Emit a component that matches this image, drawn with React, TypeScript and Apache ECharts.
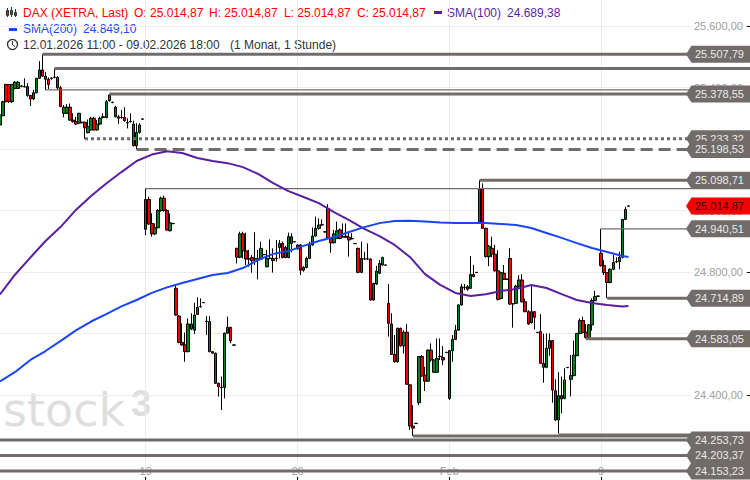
import React, { useEffect, useRef } from "react";
import * as echarts from "echarts";

const candles: number[][] = [
[25278,25311,25275,25311],[25308,25354,25308,25357],[25410,25354,25352,25412],[25410,25354,25350,25410],[25354,25410,25350,25410],
[25397,25417,25394,25421],[25397,25417,25397,25421],[25405,25404,25401,25408],[25403,25402,25400,25430],[25403,25374,25370,25414],
[25374,25363,25340,25376],[25363,25383,25359,25392],[25383,25430,25381,25431],[25430,25457,25428,25486],[25457,25437,25435,25507.79],
[25437,25427,25392,25451],[25427,25410,25395,25433],[25431,25430,25425,25432],[25434,25433,25430,25462],[25433,25399,25392,25437],
[25399,25338,25336,25405],[25316,25336,25303,25343],[25316,25336,25314,25346],[25336,25294,25292,25348],[25294,25289,25286,25316],
[25289,25281,25278,25305],[25284,25316,25281,25318],[25287,25286,25283,25289],[25287,25269,25233.32,25289],[25253,25273,25251,25296],
[25262,25300,25260,25305],[25300,25262,25260,25305],[25262,25281,25260,25294],[25281,25300,25278,25305],[25305,25302,25300,25316],
[25302,25354,25300,25359],[25357,25376,25354,25378.55],[25352,25351,25349,25354],[25336,25305,25303,25340],[25305,25300,25281,25311],
[25303,25302,25299,25327],[25303,25292,25289,25336],[25286,25285,25267,25300],[25290,25289,25286,25316],[25281,25211,25208,25292],
[25210,25254,25198.53,25284],[25254,25278,25250,25284],[25298,25297,25296,25299],
[24939,25036,24920,25072],[25036,24956,24953,25045],[24958,24924,24915,24991],[24924,24944,24920,24958],[24944,25000,24942,25004],
[25000,25040,24996,25045],[25040,25000,24996,25048],[25000,24937,24934,25004],[24934,24960,24932,24991],[24958,24957,24956,24959],
[24747,24660,24658,24758],[24657,24571,24568,24660],[24571,24563,24560,24633],[24563,24541,24508,24603],[24541,24631,24539,24649],
[24631,24615,24611,24666],[24611,24660,24598,24700],[24662,24685,24660,24718],[24688,24687,24684,24714],[24701,24700,24699,24702],
[24640,24639,24595,24657],[24639,24541,24539,24657],[24541,24536,24534,24543],[24536,24438,24436,24538],[24438,24427,24395,24440],
[24425,24424,24351,24460],[24425,24601,24389,24603],[24601,24620,24599,24655],[24620,24576,24568,24622],[24563,24562,24561,24564],
[24877,24848,24828,24879],[24848,24924,24845,24931],[24924,24869,24844,24931],[24869,24842,24823,24928],[24843,24842,24817,24872],
[24847,24837,24798,24855],[24843,24842,24823,24929],[24843,24842,24776,24872],[24842,24877,24839,24899],[24857,24856,24855,24858],
[24817,24844,24815,24872],[24845,24844,24841,24906],[24844,24837,24798,24877],[24845,24844,24834,24904],[24880,24893,24844,24904],
[24893,24847,24844,24899],[24847,24880,24845,24885],[24847,24915,24845,24928],[24915,24893,24864,24926],[24899,24898,24897,24900],
[24888,24875,24873,24890],[24888,24806,24790,24890],[24815,24806,24801,24819],[24815,24844,24812,24850],[24844,24888,24842,24899],
[24888,24917,24886,24945],[24917,24942,24915,24980],[24942,24953,24938,24974],[24954,24953,24950,24971],[24931,24930,24929,24932],
[25007,24909,24907,25021],[24909,24895,24863,24911],[24895,24924,24893,24937],[24909,24934,24907,24964],[24937,24909,24907,24942],
[24915,24914,24911,24958],[24917,24913,24910,24958],[24913,24904,24850,24931],[24909,24908,24906,24926],[24893,24892,24891,24894],
[24877,24799,24796,24879],[24799,24844,24796,24899],[24843,24842,24839,24866],[24843,24842,24839,24893],[24842,24709,24707,24844],
[24709,24763,24707,24765],[24761,24803,24758,24820],[24796,24828,24793,24839],[24823,24847,24821,24850],[24823,24822,24821,24824],
[24698,24633,24590,24761],[24631,24532,24530,24666],[24532,24508,24506,24595],[24508,24617,24506,24619],[24617,24560,24557,24619],
[24560,24604,24535,24611],[24604,24435,24433,24631],[24433,24299,24286,24435],[24299,24292,24267,24367],[24308,24307,24306,24309],
[24375,24525,24367,24527],[24525,24462,24459,24530],[24463,24445,24413,24492],[24445,24546,24443,24548],[24546,24514,24508,24568],
[24474,24514,24472,24516],[24474,24519,24472,24584],[24526,24525,24514,24584],[24522,24514,24497,24559],[24539,24538,24537,24540],
[24389,24544,24384,24546],[24544,24581,24508,24595],[24581,24611,24579,24628],[24611,24693,24609,24695],[24693,24752,24691,24761],
[24750,24749,24741,24761],[24752,24744,24739,24758],[24747,24792,24745,24852],[24792,24785,24783,24823],[24799,24798,24797,24800],
[24958,25070,24956,25098.71],[25070,24942,24940,25088],[24942,24850,24847,24944],[24850,24884,24819,24888],[24877,24858,24848,24915],
[24858,24804,24801,24888],[24804,24711,24707,24871],[24714,24798,24711,24801],[24796,24776,24774,24823],[24777,24776,24775,24778],
[24844,24696,24693,24877],[24697,24696,24619,24698],[24698,24754,24696,24758],[24754,24774,24750,24790],[24774,24703,24701,24793],
[24703,24671,24669,24714],[24671,24631,24628,24676],[24635,24671,24633,24754],[24671,24653,24613,24673],[24604,24603,24602,24605],
[24606,24503,24501,24663],[24503,24490,24440,24600],[24490,24552,24487,24600],[24552,24577,24528,24600],[24577,24416,24375,24579],
[24414,24319,24316,24451],[24319,24398,24275,24474],[24398,24387,24340,24460],[24389,24449,24386,24487],[24490,24489,24488,24491],
[24451,24463,24395,24530],[24463,24530,24461,24577],[24528,24600,24526,24602],[24600,24642,24598,24649],[24642,24603,24601,24655],
[24604,24587,24583.05,24631],[24587,24628,24585,24631],[24628,24707,24609,24714],[24707,24720,24705,24739],[24722,24721,24720,24723],
[24861,24821,24817,24940.51],[24821,24798,24790,24839],[24798,24766,24714.89,24800],[24766,24809,24763,24812],[24809,24831,24806,24855],
[24834,24833,24829,24848],[24834,24848,24809,24866],[24848,24971,24844,24973],[24971,25004,24969,25012],[25014.87,25014,25013,25016],
];

const smaIndex = [0,5,10,15,20,25,30,35,40,45,50,55,60,65,70,75,80,85,90,95,100,105,110,115,120,125,130,135,140,145,150,155,160,165,170,175,180,185,190,195,200,205,207];
const sma100 = [24727,24792,24847,24901,24947,25002,25047,25088,25125,25161,25182,25193,25187,25171,25161,25154,25141,25119,25089,25063,25044,25024,24995,24969,24940,24917,24888,24849,24793,24758,24732,24722,24728,24738,24745,24758,24748,24728,24709,24699,24693,24688,24689.38];
const sma200 = [24444,24475,24514,24543,24576,24610,24639,24663,24688,24709,24732,24750,24764,24777,24790,24797,24813,24839,24859,24868,24885,24901,24914,24930,24946,24959,24966,24967,24964,24961,24959,24959,24959,24956,24953,24943,24927,24911,24894,24878,24865,24852,24849.10];

const levelValues = [25507.79,25461.8,25392,25378.55,25233.32,25198.53,25098.71,25071,25014.87,24940.51,24714.89,24583.05,24270,24267,24253.73,24203.37,24153.23];
const levelStarts = [14,18,15,36,28,45,158,48,207,198,200,193,184,136,0,0,0];
const levelKinds = ["solid","solid","thin","solid","dotted","dashed","solid","thin","last","thin","solid","solid","solid","solid","solid","solid","solid"];
const levelTagged = [1,0,0,1,1,1,1,0,1,1,1,1,0,0,1,1,1];

const priceTicks = [24400,24600,24800,25000,25200,25400,25600];
const dayTicks: Record<number,string> = { 48:"19", 98:"26", 148:"Feb", 198:"9" };
const categoryCount = 248;
const categories = Array.from({ length: categoryCount }, (_, i) => dayTicks[i] ?? "");
const isDayTick = (i: number) => dayTicks[i] !== undefined;

const fmt = (v: number) => {
  const [a, b] = v.toFixed(2).split(".");
  return a.replace(/\B(?=(\d{3})+$)/g, ".") + "," + b;
};

const FONT = '"Liberation Sans", Arial, sans-serif';
const GREY = "#716c69";
const PURPLE = "#5a1fa0";
const BLUE = "#1a45f5";
const t = (x: number, y: number, text: string, fill: string, extra: any = {}) => ({
  type: "text", x, y, silent: true,
  style: { text, fill, font: `12px ${FONT}`, textVerticalAlign: "middle", ...extra },
});

export default function App() {
  const ref = useRef<HTMLDivElement>(null);
  useEffect(() => {
    document.body.style.margin = "0";
    const chart = echarts.init(ref.current!, undefined, { renderer: "svg" });
    chart.setOption({
      animation: false,
      backgroundColor: "#fff",
      grid: { left: -1, top: 0, width: 750.88, height: 480, containLabel: false },
      xAxis: {
        type: "category", data: categories, boundaryGap: false,
        axisLine: { show: false },
        axisTick: { show: true, inside: true, length: 3, alignWithLabel: true, interval: (i: number) => isDayTick(i), lineStyle: { color: "#000" } },
        axisLabel: { show: true, inside: true, margin: 4, interval: (i: number) => isDayTick(i), color: "#a0a0a0", fontFamily: FONT, fontSize: 11, hideOverlap: false, showMinLabel: true, showMaxLabel: true },
        splitLine: { show: true, interval: (i: number) => isDayTick(i), lineStyle: { color: "#ececec", width: 1 } },
      },
      yAxis: {
        type: "value", position: "right", min: 24123.6, max: 25684.6,
        axisLine: { show: false },
        axisTick: { show: true, inside: true, length: 3, lineStyle: { color: "#000" }, customValues: priceTicks },
        axisLabel: { show: true, inside: true, margin: 4, color: "#a0a0a0", fontFamily: FONT, fontSize: 11, formatter: (v: number) => fmt(v), backgroundColor: "#fff", padding: [2, 3, 2, 3], customValues: priceTicks, showMinLabel: true, showMaxLabel: true },
        splitLine: { show: true, lineStyle: { color: "#ececec", width: 1 } },
      },
      graphic: [
        // watermark
        { type: "text", x: 3, y: 410, z: -1, silent: true, style: { text: "stock", fill: "#dedede", font: `46px "DejaVu Sans", sans-serif`, textVerticalAlign: "middle" } },
        { type: "text", x: 131, y: 403, z: -1, silent: true, style: { text: "3", fill: "#dedede", font: `bold 36px "Liberation Sans", sans-serif`, textVerticalAlign: "middle" } },
        // header icons
        { type: "line", silent: true, shape: { x1: 7.5, y1: 8, x2: 7.5, y2: 17 }, style: { stroke: "#333" } },
        { type: "line", silent: true, shape: { x1: 11.5, y1: 7, x2: 11.5, y2: 17 }, style: { stroke: "#333" } },
        { type: "line", silent: true, shape: { x1: 15.5, y1: 9, x2: 15.5, y2: 17 }, style: { stroke: "#333" } },
        { type: "rect", silent: true, shape: { x: 6.5, y: 10.5, width: 2, height: 5 }, style: { fill: "#f00", stroke: "#333" } },
        { type: "rect", silent: true, shape: { x: 10.5, y: 10.5, width: 2, height: 4 }, style: { fill: "#f00", stroke: "#333" } },
        { type: "rect", silent: true, shape: { x: 14.5, y: 12.5, width: 2, height: 3 }, style: { fill: "#f00", stroke: "#333" } },
        { type: "rect", silent: true, shape: { x: 9, y: 28, width: 8, height: 3 }, style: { fill: BLUE } },
        { type: "rect", silent: true, shape: { x: 434, y: 11, width: 8, height: 3 }, style: { fill: PURPLE } },
        { type: "circle", silent: true, shape: { cx: 12.5, cy: 44.5, r: 5 }, style: { fill: "none", stroke: "#333", lineWidth: 1.3 } },
        { type: "polyline", silent: true, shape: { points: [[12.5, 41], [12.5, 45], [15, 46.5]] }, style: { fill: "none", stroke: "#333" } },
        // header text
        t(23, 13, "DAX (XETRA, Last)", "#f00"),
        t(134, 13, "O: 25.014,87", "#f00"),
        t(209, 13, "H: 25.014,87", "#f00"),
        t(284, 13, "L: 25.014,87", "#f00"),
        t(357, 13, "C: 25.014,87", "#f00"),
        t(447, 13, "SMA(100)", PURPLE),
        t(507, 13, "24.689,38", PURPLE),
        t(23, 29, "SMA(200)", BLUE),
        t(83, 29, "24.849,10", BLUE),
        t(23, 45, "12.01.2026 11:00 - 09.02.2026 18:00", "#333"),
        t(230, 45, "(1 Monat, 1 Stunde)", "#333"),
      ],
      series: [
        {
          type: "candlestick", data: candles, barWidth: 3, large: false, z: 2, clip: false,
          itemStyle: { color: "#0a7d1c", color0: "#f00000", borderColor: "#000", borderColor0: "#000", borderColorDoji: "#000", borderWidth: 1 },
          silent: true,
        },
        {
          type: "custom", z: 3, clip: false, silent: true,
          data: levelValues.map((v, i) => [levelStarts[i], v]),
          encode: { x: 0, y: 1 },
          renderItem: (params: any, api: any) => {
            const i = params.dataIndex;
            const kind = levelKinds[i];
            const v = levelValues[i];
            const [sx, y] = api.coord([levelStarts[i], v]);
            const right = 750;
            const children: any[] = [];
            if (kind !== "last") {
              const lw = kind === "thin" ? 1.2 : 3;
              const dash = kind === "dashed" ? [12, 6] : kind === "dotted" ? [3, 3] : undefined;
              children.push({
                type: "line", shape: { x1: sx, y1: y, x2: right, y2: y },
                style: { stroke: GREY, lineWidth: lw, lineDash: dash },
              });
            }
            if (levelTagged[i]) {
              const fill = kind === "last" ? "#f60000" : GREY;
              children.push({
                type: "polygon",
                shape: { points: [[686, y], [691.5, y - 8.5], [750, y - 8.5], [750, y + 8.5], [691.5, y + 8.5]] },
                style: { fill },
              });
              children.push({
                type: "text", x: 695, y,
                style: { text: fmt(v), fill: kind === "last" ? "#330000" : "#ece9e6", font: `11px ${FONT}`, textVerticalAlign: "middle" },
              });
            }
            return { type: "group", children };
          },
        },
        {
          type: "line", z: 4, showSymbol: false, clip: false, silent: true,
          data: smaIndex.map((x, k) => [x, sma100[k]]),
          lineStyle: { color: PURPLE, width: 2 },
        },
        {
          type: "line", z: 4, showSymbol: false, clip: false, silent: true,
          data: smaIndex.map((x, k) => [x, sma200[k]]),
          lineStyle: { color: BLUE, width: 2 },
        },
      ],
    });
    return () => chart.dispose();
  }, []);
  return <div ref={ref} style={{ position: "absolute", left: 0, top: 0, width: 750, height: 480, overflow: "hidden" }} />;
}
